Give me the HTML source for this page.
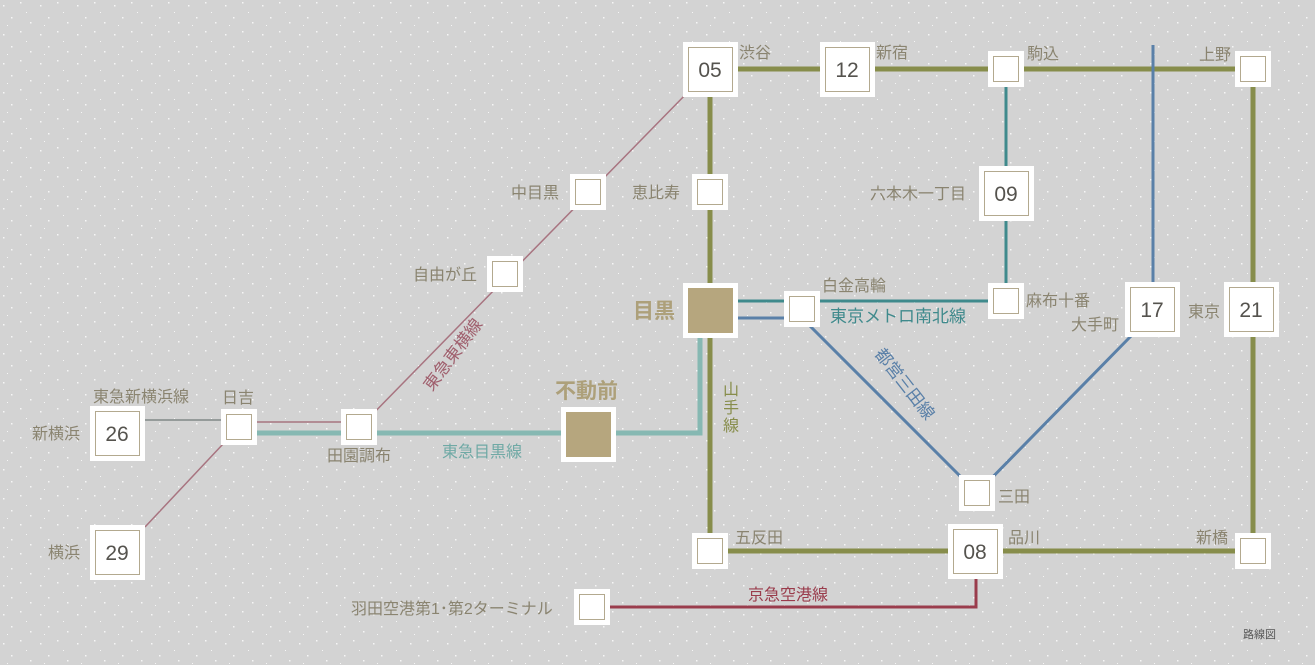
<!DOCTYPE html>
<html><head><meta charset="utf-8"><style>
html,body{margin:0;padding:0;background:#d3d3d3;}
svg{display:block;font-family:"Liberation Sans","Noto Sans CJK JP",sans-serif;}
.l{fill:#8a8470;font-size:16px;}
.n{fill:#55534e;font-size:21px;text-anchor:middle;}
</style></head><body>
<svg width="1315" height="665" viewBox="0 0 1315 665" xmlns="http://www.w3.org/2000/svg">
<defs>
<pattern id="sp" width="37" height="29" patternUnits="userSpaceOnUse">
<rect x="3" y="5" width="1.5" height="1.5" fill="#fff"/><rect x="20" y="2" width="1.5" height="1.5" fill="#fff"/>
<rect x="11" y="17" width="1.5" height="1.5" fill="#fff"/><rect x="30" y="22" width="1.5" height="1.5" fill="#fff"/>
<rect x="26" y="12" width="1" height="1" fill="#fff"/><rect x="7" y="25" width="1" height="1" fill="#fff"/>
</pattern>
</defs>
<rect width="1315" height="665" fill="#d3d3d3"/>
<rect width="1315" height="665" fill="url(#sp)" opacity="0.8"/>

<g fill="none" stroke-linejoin="miter">
<polyline points="690,90 360,427" stroke="#a87480" stroke-width="1.5"/>
<polyline points="239,422 360,422" stroke="#a87480" stroke-width="1.5"/>
<polyline points="239,427 145,527" stroke="#a87480" stroke-width="1.5"/>
<line x1="145" y1="420" x2="225" y2="420" stroke="#707a78" stroke-width="1.2"/>
<polyline points="255,433 700,433 700,335" stroke="#86b8b2" stroke-width="5"/>
<polyline points="710,69 1253,69 1253,551 710,551 710,69" stroke="#878d4b" stroke-width="5"/>
<polyline points="1006,69 1006,301 736,301" stroke="#3f8a8c" stroke-width="3"/>
<polyline points="736,318 802,318 977,493 1132,335" stroke="#5a80a8" stroke-width="3"/>
<line x1="1153" y1="45" x2="1153" y2="285" stroke="#5a80a8" stroke-width="3"/>
<polyline points="608,607 976,607 976,575" stroke="#9a3c4c" stroke-width="3"/>
</g>

<g fill="#fff">
<rect x="683" y="42" width="55" height="55"/><rect x="820" y="42" width="55" height="55"/>
<rect x="979" y="166" width="55" height="55"/><rect x="1125" y="282" width="55" height="55"/>
<rect x="1224" y="282" width="55" height="55"/><rect x="90" y="406" width="55" height="55"/>
<rect x="90" y="525" width="55" height="55"/><rect x="948" y="524" width="55" height="55"/>
<rect x="683" y="283" width="55" height="55"/><rect x="561" y="407" width="55" height="55"/>
<rect x="988" y="51" width="36" height="36"/><rect x="1235" y="51" width="36" height="36"/>
<rect x="570" y="174" width="36" height="36"/><rect x="692" y="174" width="36" height="36"/>
<rect x="487" y="256" width="36" height="36"/><rect x="784" y="291" width="36" height="36"/>
<rect x="988" y="283" width="36" height="36"/><rect x="221" y="409" width="36" height="36"/>
<rect x="341" y="409" width="36" height="36"/><rect x="959" y="475" width="36" height="36"/>
<rect x="692" y="533" width="36" height="36"/><rect x="1235" y="533" width="36" height="36"/>
<rect x="574" y="589" width="36" height="36"/>
</g>
<g fill="none" stroke="#b3a98f" stroke-width="1">
<rect x="688.5" y="47.5" width="44" height="44"/><rect x="825.5" y="47.5" width="44" height="44"/>
<rect x="984.5" y="171.5" width="44" height="44"/><rect x="1130.5" y="287.5" width="44" height="44"/>
<rect x="1229.5" y="287.5" width="44" height="44"/><rect x="95.5" y="411.5" width="44" height="44"/>
<rect x="95.5" y="530.5" width="44" height="44"/><rect x="953.5" y="529.5" width="44" height="44"/>
<rect x="993.5" y="56.5" width="25" height="25"/><rect x="1240.5" y="56.5" width="25" height="25"/>
<rect x="575.5" y="179.5" width="25" height="25"/><rect x="697.5" y="179.5" width="25" height="25"/>
<rect x="492.5" y="261.5" width="25" height="25"/><rect x="789.5" y="296.5" width="25" height="25"/>
<rect x="993.5" y="288.5" width="25" height="25"/><rect x="226.5" y="414.5" width="25" height="25"/>
<rect x="346.5" y="414.5" width="25" height="25"/><rect x="964.5" y="480.5" width="25" height="25"/>
<rect x="697.5" y="538.5" width="25" height="25"/><rect x="1240.5" y="538.5" width="25" height="25"/>
<rect x="579.5" y="594.5" width="25" height="25"/>
</g>
<rect x="688" y="288" width="45" height="45" fill="#b6a67e"/>
<rect x="566" y="412" width="45" height="45" fill="#b6a67e"/>

<text class="n" x="710" y="77">05</text><text class="n" x="847" y="77">12</text>
<text class="n" x="1006" y="201">09</text><text class="n" x="1152" y="317">17</text>
<text class="n" x="1251" y="317">21</text><text class="n" x="117" y="441">26</text>
<text class="n" x="117" y="560">29</text><text class="n" x="975" y="559">08</text>

<g class="l">
<text x="739" y="58">渋谷</text><text x="876" y="58">新宿</text><text x="1027" y="59">駒込</text>
<text x="1199" y="60">上野</text>
<text x="511" y="198">中目黒</text><text x="632" y="198">恵比寿</text>
<text x="870" y="199">六本木一丁目</text>
<text x="413" y="280">自由が丘</text>
<text x="822" y="291">白金高輪</text><text x="1026" y="306">麻布十番</text>
<text x="1071" y="330">大手町</text><text x="1188" y="317">東京</text>
<text x="93" y="402">東急新横浜線</text><text x="222" y="403">日吉</text>
<text x="32" y="439">新横浜</text><text x="48" y="558">横浜</text>
<text x="327" y="461">田園調布</text>
<text x="998" y="502">三田</text>
<text x="735" y="543">五反田</text><text x="1008" y="543">品川</text><text x="1196" y="543">新橋</text>
<text x="351" y="614">羽田空港第1･第2ターミナル</text>
</g>
<text x="633" y="318" fill="#ada07a" font-size="21" font-weight="bold">目黒</text>
<text x="555" y="398" fill="#ada07a" font-size="21" font-weight="bold">不動前</text>
<text x="442" y="457" fill="#6fa9a5" font-size="16">東急目黒線</text>
<text x="830" y="322" fill="#3f8a8c" font-size="17">東京メトロ南北線</text>
<text x="748" y="600" fill="#9a3c4c" font-size="16">京急空港線</text>
<g fill="#878d4b" font-size="16" text-anchor="middle">
<text x="731" y="395">山</text><text x="731" y="413">手</text><text x="731" y="431">線</text>
</g>
<text transform="translate(432,392) rotate(-53)" fill="#a0606e" font-size="17">東急東横線</text>
<text transform="translate(874,354) rotate(52)" fill="#5a80a8" font-size="17">都営三田線</text>
<text x="1243" y="638" fill="#555" font-size="11">路線図</text>
</svg>
</body></html>
